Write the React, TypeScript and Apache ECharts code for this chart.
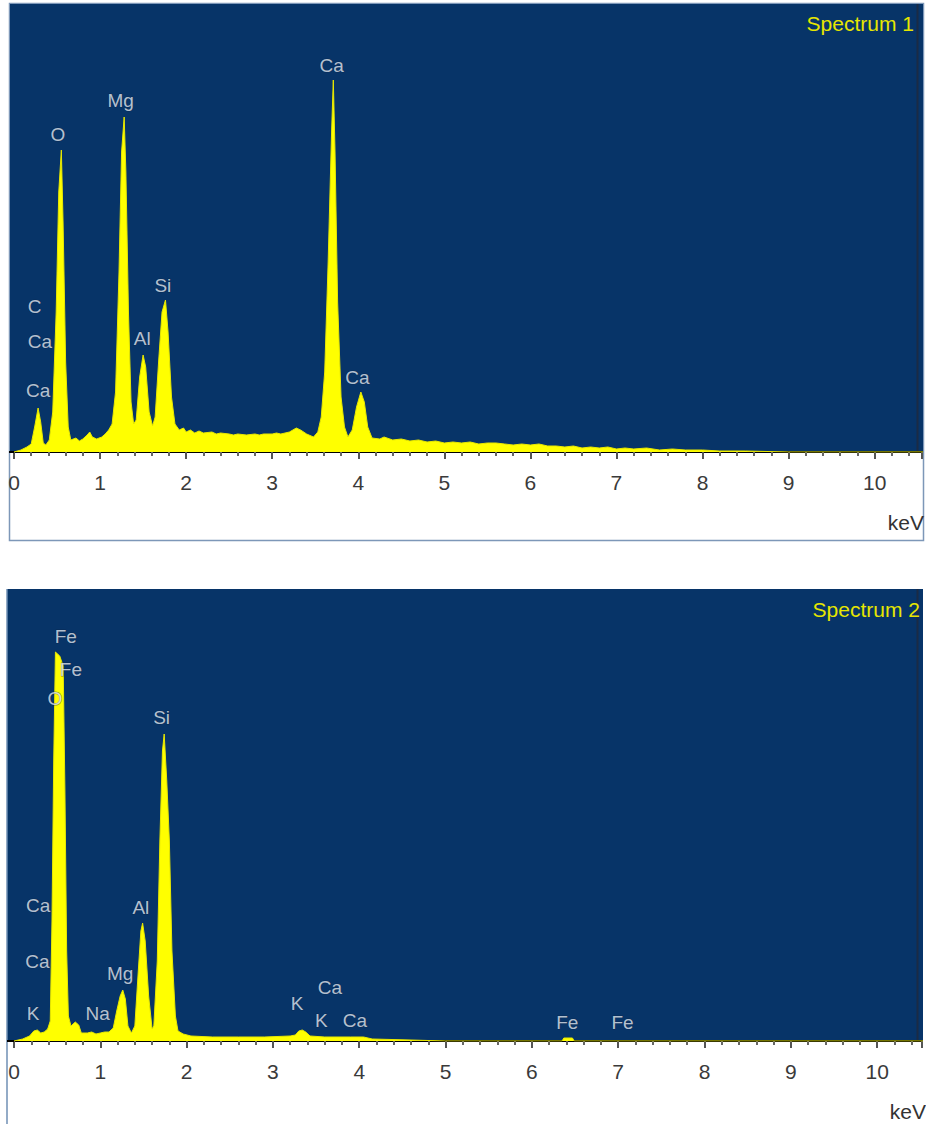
import React, { useEffect, useRef } from "react";
import * as echarts from "echarts";

const FONT = '"Liberation Sans", Arial, sans-serif';

// Spectrum 1: [keV, counts]
const spectrum1: [number, number][] = [
  [0, 0], [0.08, 2], [0.15, 5], [0.2, 8], [0.24, 25], [0.28, 44], [0.31, 30], [0.34, 9],
  [0.37, 7], [0.41, 12], [0.45, 40], [0.49, 140], [0.52, 260], [0.55, 302], [0.57, 230],
  [0.6, 90], [0.63, 25], [0.66, 12], [0.72, 14], [0.76, 11], [0.8, 13], [0.85, 17], [0.88, 20],
  [0.91, 15], [0.96, 13], [1.02, 15], [1.06, 18], [1.1, 22], [1.14, 28], [1.18, 60],
  [1.22, 180], [1.25, 300], [1.28, 335], [1.3, 280], [1.33, 140], [1.36, 50], [1.39, 28],
  [1.42, 32], [1.46, 75], [1.5, 97], [1.53, 85], [1.57, 40], [1.61, 26], [1.64, 35],
  [1.68, 90], [1.72, 140], [1.76, 152], [1.79, 120], [1.83, 55], [1.87, 28], [1.92, 22],
  [1.97, 24], [2.0, 20], [2.05, 22], [2.1, 19], [2.15, 21], [2.2, 19], [2.3, 20], [2.35, 18],
  [2.4, 19], [2.5, 18], [2.55, 17], [2.6, 18], [2.7, 17], [2.8, 18], [2.85, 17], [2.9, 18],
  [3.0, 18], [3.05, 19], [3.1, 18], [3.2, 20], [3.28, 24], [3.33, 22], [3.4, 18], [3.48, 15],
  [3.53, 20], [3.57, 35], [3.61, 80], [3.65, 190], [3.69, 320], [3.71, 372], [3.73, 300],
  [3.76, 150], [3.8, 55], [3.84, 25], [3.88, 15], [3.93, 22], [3.98, 45], [4.03, 60],
  [4.07, 50], [4.11, 25], [4.16, 14], [4.25, 13], [4.3, 15], [4.4, 12], [4.5, 13], [4.6, 11],
  [4.7, 12], [4.8, 10], [4.9, 11], [5.0, 9], [5.1, 10], [5.2, 9], [5.3, 10], [5.4, 8],
  [5.5, 9], [5.6, 9], [5.7, 8], [5.8, 7], [5.9, 8], [6.0, 7], [6.1, 8], [6.2, 6], [6.3, 6],
  [6.4, 5], [6.5, 6], [6.6, 4], [6.7, 5], [6.8, 4], [6.9, 5], [7.0, 3], [7.1, 4], [7.2, 3],
  [7.35, 4], [7.5, 2], [7.65, 3], [7.8, 2], [8.0, 2], [8.2, 1], [8.5, 1], [9.0, 0], [10.6, 0],
];

// Spectrum 2: [keV, counts]
const spectrum2: [number, number][] = [
  [0, 0], [0.1, 2], [0.18, 5], [0.23, 10], [0.27, 11], [0.31, 8], [0.35, 9], [0.39, 12],
  [0.42, 20], [0.44, 120], [0.46, 280], [0.48, 389], [0.53, 385], [0.57, 375], [0.59, 250],
  [0.61, 90], [0.63, 25], [0.66, 15], [0.71, 19], [0.75, 16], [0.78, 8], [0.85, 8], [0.9, 9],
  [0.95, 7], [1.0, 8], [1.05, 9], [1.1, 9], [1.15, 13], [1.19, 30], [1.23, 45], [1.26, 51],
  [1.29, 42], [1.32, 15], [1.36, 8], [1.4, 15], [1.44, 70], [1.47, 110], [1.49, 118],
  [1.52, 100], [1.56, 45], [1.6, 12], [1.62, 15], [1.66, 80], [1.69, 200], [1.72, 290],
  [1.74, 307], [1.77, 260], [1.8, 200], [1.83, 90], [1.87, 25], [1.9, 10], [1.96, 7],
  [2.05, 5], [2.3, 4], [2.6, 4], [2.9, 4], [3.2, 5], [3.26, 6], [3.3, 10], [3.34, 11],
  [3.38, 9], [3.43, 5], [3.6, 4], [3.9, 4], [4.05, 4], [4.15, 2], [4.6, 1], [5.0, 0],
  [6.35, 0], [6.37, 3], [6.47, 3], [6.49, 0], [10.6, 0],
];

// Peak labels: [element, keV, label height in counts]
const labels1: [string, number, number][] = [
  ["Ca", 3.69, 387], ["Mg", 1.24, 352], ["O", 0.51, 318], ["Si", 1.73, 167],
  ["Al", 1.49, 114], ["Ca", 3.99, 75], ["C", 0.24, 146], ["Ca", 0.3, 111], ["Ca", 0.28, 62],
];
const labels2: [string, number, number][] = [
  ["Fe", 0.6, 405], ["Fe", 0.66, 372], ["O", 0.475, 343], ["Si", 1.71, 324],
  ["Ca", 0.28, 136], ["Ca", 0.27, 80], ["K", 0.22, 28], ["Na", 0.97, 28], ["Mg", 1.23, 68],
  ["Al", 1.47, 134], ["K", 3.28, 38], ["Ca", 3.66, 54], ["K", 3.56, 21], ["Ca", 3.95, 21],
  ["Fe", 6.41, 19], ["Fe", 7.05, 19],
];

const titles = ["Spectrum 1", "Spectrum 2"];
const axisName = "keV";

const BLUE = "#073468";

function xAxisCfg(gridIndex: number, max: number) {
  return {
    type: "value",
    gridIndex,
    min: 0,
    max,
    interval: 1,
    axisLine: { show: true, onZero: false, lineStyle: { color: "#000", width: 2 } },
    axisTick: { show: true, length: 7, lineStyle: { color: "#555", width: 2 } },
    minorTick: { show: true, splitNumber: 5, length: 4, lineStyle: { color: "#666", width: 2 } },
    axisLabel: {
      margin: 20,
      fontSize: 21,
      color: "#3a3a3a",
      fontFamily: FONT,
      showMaxLabel: false,
    },
    splitLine: { show: false },
  };
}

function yAxisCfg(gridIndex: number, max: number) {
  return {
    type: "value",
    gridIndex,
    min: 0,
    max,
    show: false,
    splitLine: { show: false },
  };
}

function labelSeries(idx: number, data: [string, number, number][]) {
  return {
    type: "scatter",
    xAxisIndex: idx,
    yAxisIndex: idx,
    symbolSize: 1,
    itemStyle: { color: "rgba(0,0,0,0)" },
    silent: true,
    z: 5,
    data: data.map(([n, x, y]) => ({ name: n, value: [x, y] })),
    label: {
      show: true,
      position: "inside",
      formatter: (p: any) => p.name,
      color: "#e2e9f1",
      fontSize: 19,
      fontFamily: FONT,
      textBorderColor: "rgba(10,30,60,0.6)",
      textBorderWidth: 1,
    },
  };
}

function areaSeries(idx: number, data: [number, number][]) {
  return {
    type: "line",
    xAxisIndex: idx,
    yAxisIndex: idx,
    data,
    symbol: "none",
    lineStyle: { color: "#e8e800", width: 1 },
    areaStyle: { color: "#ffff00", opacity: 1 },
    z: 3,
    silent: true,
  };
}

export default function App() {
  const ref = useRef<HTMLDivElement>(null);
  useEffect(() => {
    if (!ref.current) return;
    const chart = echarts.init(ref.current, undefined, { renderer: "svg" });
    const option: any = {
      animation: false,
      backgroundColor: "#fff",
      grid: [
        { left: 14, top: 4, width: 908, height: 448, show: false },
        { left: 14, top: 589, width: 908, height: 452, show: false },
      ],
      xAxis: [xAxisCfg(0, 10.55), xAxisCfg(1, 10.52)],
      yAxis: [yAxisCfg(0, 448), yAxisCfg(1, 452)],
      graphic: [
        {
          type: "rect",
          z: -10,
          shape: { x: 9.5, y: 3.5, width: 914, height: 537 },
          style: { fill: "#fff", stroke: "#7d97b8", lineWidth: 1.5 },
        },
        {
          type: "rect",
          z: -9,
          shape: { x: 10, y: 4, width: 913, height: 448 },
          style: { fill: BLUE },
        },
        {
          type: "line",
          z: -8,
          shape: { x1: 917.5, y1: 4, x2: 917.5, y2: 452 },
          style: { stroke: "#1b2b45", lineWidth: 2 },
        },
        {
          type: "line",
          z: -8,
          shape: { x1: 7, y1: 589, x2: 7, y2: 1124 },
          style: { stroke: "#6f8fb5", lineWidth: 1.5 },
        },
        {
          type: "rect",
          z: -9,
          shape: { x: 7, y: 589, width: 916, height: 452 },
          style: { fill: BLUE },
        },
        {
          type: "line",
          z: -8,
          shape: { x1: 917.5, y1: 589, x2: 917.5, y2: 1041 },
          style: { stroke: "#1b2b45", lineWidth: 2 },
        },
        {
          type: "line",
          z: 10,
          shape: { x1: 9, y1: 452, x2: 14, y2: 452 },
          style: { stroke: "#000", lineWidth: 2 },
        },
        {
          type: "line",
          z: 10,
          shape: { x1: 7, y1: 1041, x2: 14, y2: 1041 },
          style: { stroke: "#000", lineWidth: 2 },
        },
        {
          type: "text",
          z: 20,
          x: 914,
          y: 23,
          style: {
            text: titles[0],
            fill: "#e6e600",
            font: `21px ${FONT}`,
            textAlign: "right",
            textVerticalAlign: "middle",
          },
        },
        {
          type: "text",
          z: 20,
          x: 920,
          y: 609,
          style: {
            text: titles[1],
            fill: "#e6e600",
            font: `21px ${FONT}`,
            textAlign: "right",
            textVerticalAlign: "middle",
          },
        },
        {
          type: "text",
          z: 20,
          x: 924,
          y: 522,
          style: {
            text: axisName,
            fill: "#333",
            font: `21px ${FONT}`,
            textAlign: "right",
            textVerticalAlign: "middle",
          },
        },
        {
          type: "text",
          z: 20,
          x: 926,
          y: 1111,
          style: {
            text: axisName,
            fill: "#333",
            font: `21px ${FONT}`,
            textAlign: "right",
            textVerticalAlign: "middle",
          },
        },
      ],
      series: [
        areaSeries(0, spectrum1),
        areaSeries(1, spectrum2),
        labelSeries(0, labels1),
        labelSeries(1, labels2),
      ],
    };
    chart.setOption(option);
    return () => chart.dispose();
  }, []);
  return (
    <div
      ref={ref}
      style={{ position: "absolute", left: 0, top: 0, width: 926, height: 1124 }}
    />
  );
}
